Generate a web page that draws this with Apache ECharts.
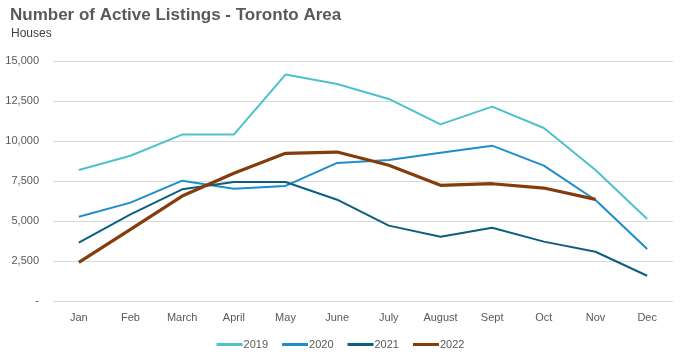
<!DOCTYPE html>
<html><head><meta charset="utf-8">
<script src="https://cdn.jsdelivr.net/npm/echarts@6/dist/echarts.min.js"></script>
<style>html,body{margin:0;padding:0;background:#fff}#c{width:681px;height:362px}</style>
</head><body><div id="c"></div>
<script>
const months = ["Jan","Feb","March","April","May","June","July","August","Sept","Oct","Nov","Dec"];
const s2019 = [8190,9080,10400,10400,14150,13560,12630,11040,12150,10810,8190,5130];
const s2020 = [5270,6150,7520,7020,7190,8630,8810,9270,9710,8460,6310,3250];
const s2021 = [3650,5420,6980,7440,7440,6330,4710,4020,4580,3710,3080,1580];
const s2022 = [2420,4480,6560,7980,9230,9310,8480,7230,7330,7060,6350];
const seriesNames = ["2019","2020","2021","2022"];
const colors = ["#4EC2CA","#1E8DCA","#0D5F80","#843C0C"];
const widths = [2,2,2,3.2];
const yTicks = {min:0,max:15000,interval:2500};

const chart = echarts.init(document.getElementById('c'), null, {renderer:'canvas'});
const all = [s2019,s2020,s2021,s2022];
chart.setOption({
  animation:false,
  backgroundColor:'#fff',
  title:[
    {text:'Number of Active Listings - Toronto Area',left:10,top:7,padding:0,textStyle:{fontFamily:'Liberation Sans, Arial',fontWeight:'bold',fontSize:17,color:'#595959'}},
    {text:'Houses',left:11,top:28,padding:0,textStyle:{fontFamily:'Liberation Sans, Arial',fontWeight:'normal',fontSize:12,color:'#404040'}}
  ],
  grid:{left:53,right:8,top:61,bottom:61},
  legend:{bottom:7,left:'center',itemWidth:26,itemHeight:3,itemGap:14,icon:'rect',
    textStyle:{fontFamily:'Liberation Sans, Arial',fontSize:11,color:'#595959',padding:[0,0,0,-4]},
    data:seriesNames},
  xAxis:{type:'category',data:months,boundaryGap:true,
    axisLine:{show:false},axisTick:{show:false},
    axisLabel:{fontFamily:'Liberation Sans, Arial',fontSize:11,color:'#595959',margin:11}},
  yAxis:{type:'value',min:yTicks.min,max:yTicks.max,interval:yTicks.interval,
    axisLine:{show:false},axisTick:{show:false},
    splitLine:{lineStyle:{color:'#D9D9D9',width:1}},
    axisLabel:{fontFamily:'Liberation Sans, Arial',fontSize:11,color:'#595959',margin:14,
      formatter:v=>v===0?'-':v.toLocaleString('en-US')}},
  series:all.map((d,i)=>({name:seriesNames[i],type:'line',data:d,symbol:'none',
    lineStyle:{color:colors[i],width:widths[i]},itemStyle:{color:colors[i]}}))
});
</script></body></html>
